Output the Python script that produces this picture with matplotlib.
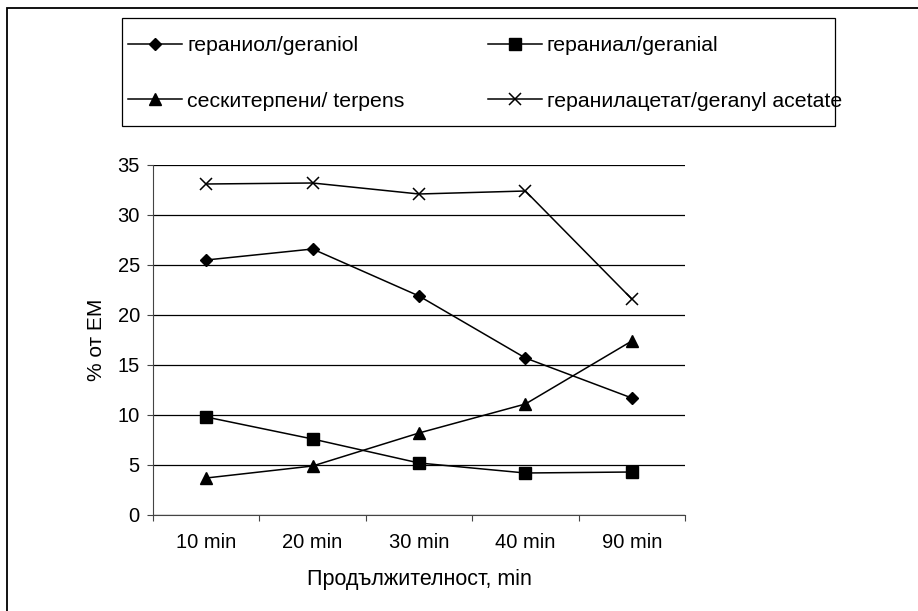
import numpy as np
import matplotlib.pyplot as plt
from matplotlib.patches import Rectangle

plt.rcParams['font.family'] = ['Liberation Sans', 'DejaVu Sans']

'''
data read from the chart
'''
categories = ['10 min', '20 min', '30 min', '40 min', '90 min']
geraniol = [25.5, 26.6, 21.9, 15.7, 11.7]
geranial = [9.8, 7.6, 5.2, 4.2, 4.3]
terpens = [3.7, 4.9, 8.2, 11.1, 17.4]
geranyl_acetate = [33.1, 33.2, 32.1, 32.4, 21.6]
labels = ['гераниол/geraniol', 'гераниал/geranial',
          'сескитерпени/ terpens', 'геранилацетат/geranyl acetate']

W, H = 918, 611
fig = plt.figure(figsize=(W / 100, H / 100), dpi=100)
ax = fig.add_axes([153 / W, 1 - 515 / H, 532 / W, 350 / H])

x = np.arange(len(categories))
kw = dict(color='black', linewidth=1.1)
l1, = ax.plot(x, geraniol, marker='D', markersize=6.5, **kw)
l2, = ax.plot(x, geranial, marker='s', markersize=8.3, **kw)
l3, = ax.plot(x, terpens, marker='^', markersize=9.3, **kw)
l4, = ax.plot(x, geranyl_acetate, marker='x', markersize=9, markeredgewidth=1.1, **kw)

ax.set_xlim(-0.5, len(categories) - 0.5)
ax.set_ylim(0, 35)
ax.set_yticks(np.arange(0, 36, 5))
ax.yaxis.grid(True, color='black', linewidth=0.9)
ax.set_axisbelow(True)

# ticks between categories, labels centred on them
ax.set_xticks(np.arange(-0.5, len(categories), 1))
ax.set_xticklabels([])
ax.set_xticks(x, minor=True)
ax.set_xticklabels(categories, minor=True)
ax.tick_params(axis='x', which='major', length=4.5, direction='out', color='#444444')
ax.tick_params(axis='x', which='minor', length=0, pad=13, labelsize=14.5)
ax.tick_params(axis='y', length=4.5, direction='out', labelsize=14.5, pad=5, color='#444444')

for s in ['top', 'right']:
    ax.spines[s].set_visible(False)
ax.spines['left'].set_color('#444444')
ax.spines['bottom'].set_color('#444444')

ax.set_xlabel('Продължителност, min', fontsize=15.5, labelpad=12.5)
ax.set_ylabel('% от ЕМ', fontsize=15, labelpad=8)

# legend filled row by row, frame drawn separately
leg = fig.legend([l1, l3, l2, l4], [labels[0], labels[2], labels[1], labels[3]],
                 ncol=2, loc='upper left', bbox_to_anchor=(128 / W, 1 - 36 / H),
                 fontsize=15.3, frameon=False, handlelength=2.55, handletextpad=0.24,
                 labelspacing=1.72, columnspacing=3.9, borderpad=0, borderaxespad=0)

fig.patches.append(Rectangle((122 / W, 1 - 126 / H), (835 - 122) / W, 108 / H,
                             transform=fig.transFigure, fill=False,
                             edgecolor='black', linewidth=0.9))
fig.patches.append(Rectangle((7 / W, -0.1), 1.2, 1.1 - 8 / H, transform=fig.transFigure,
                             fill=False, edgecolor='black', linewidth=1.3))

plt.savefig('out.png', dpi=100)
